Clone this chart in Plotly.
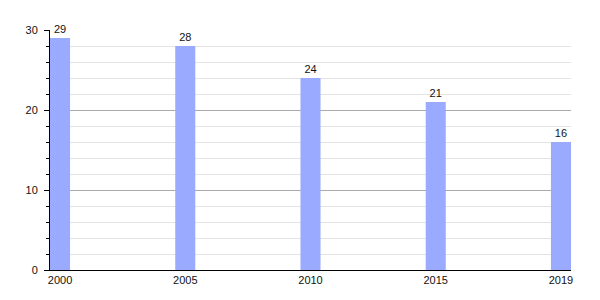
import plotly.graph_objects as go

years = ["2000", "2005", "2010", "2015", "2019"]
values = [29, 28, 24, 21, 16]
y_ticks = [0, 10, 20, 30]

bar_w = 0.16

fig = go.Figure(go.Bar(
    x=years, y=values, width=bar_w,
    marker=dict(color="#99aaff", line=dict(width=0)),
    text=[str(v) for v in values], textposition="outside",
    outsidetextfont=dict(family="Liberation Sans, Arial, sans-serif", size=11, color="#111111"),
    cliponaxis=False,
))

fig.update_layout(
    width=600, height=300,
    margin=dict(l=50, r=29, t=30, b=30),
    paper_bgcolor="white", plot_bgcolor="white",
    showlegend=False,
    font=dict(family="Liberation Sans, Arial, sans-serif", size=11, color="#111111"),
    xaxis=dict(
        type="category",
        range=[-bar_w / 2, len(years) - 1 + bar_w / 2],
        showgrid=False, zeroline=False,
        showline=True, linecolor="black", linewidth=1,
        ticks="", ticklabelstandoff=0,
    ),
    yaxis=dict(
        range=[0, 30], tickvals=y_ticks,
        showgrid=True, gridcolor="#aaaaaa", gridwidth=1,
        zeroline=False,
        showline=True, linecolor="black", linewidth=1,
        ticks="outside", ticklen=5, tickcolor="black",
        ticklabelstandoff=4,
        minor=dict(dtick=2, showgrid=True, gridcolor="#e4e4e4",
                   ticks="outside", ticklen=3, tickcolor="black"),
    ),
)

fig.write_html("out.html")
